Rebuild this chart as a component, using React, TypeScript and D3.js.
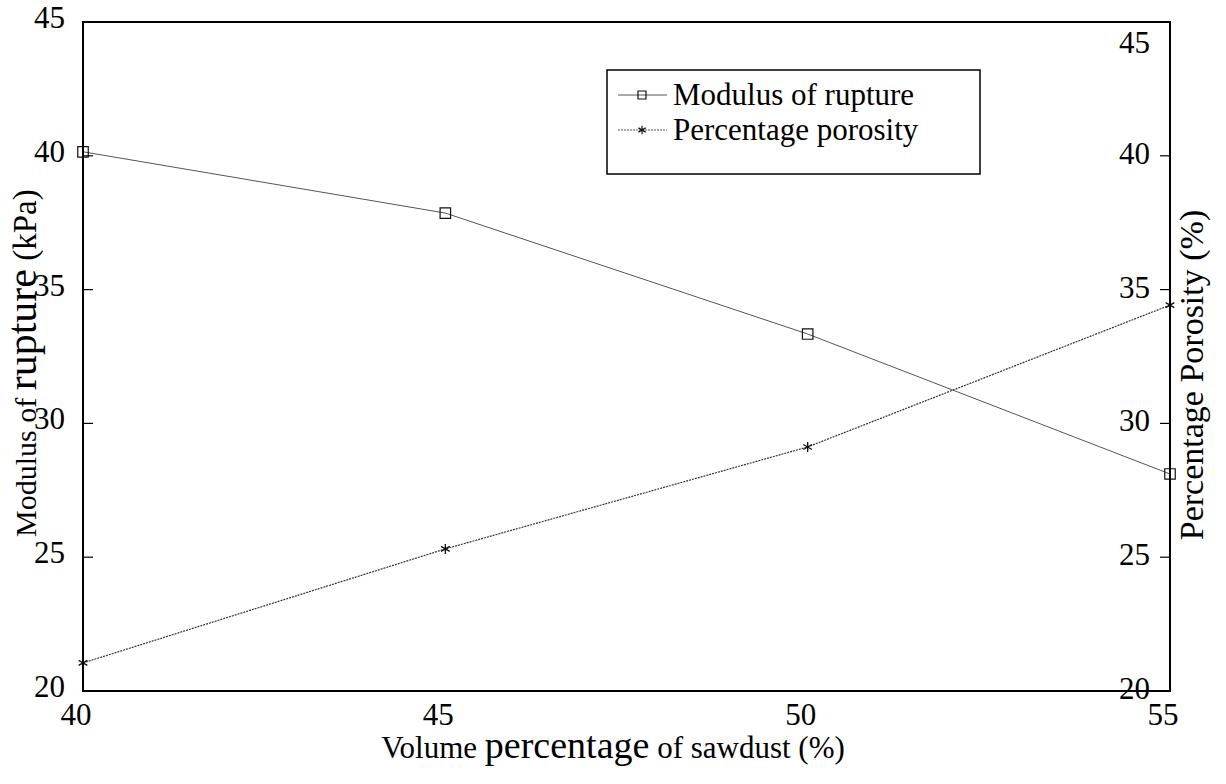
import React from "react";
import * as d3 from "d3";

// Volume percentage of sawdust (%)
const volume = [40, 45, 50, 55];
// Modulus of rupture (kPa), left axis
const modulusOfRupture = [40.15, 37.86, 33.34, 28.11];
// Percentage porosity (%), right axis
const porosity = [21.05, 25.31, 29.12, 34.42];

const xTicks = [40, 45, 50, 55];
const yTicks = [20, 25, 30, 35, 40, 45];

const W = 1226;
const H = 784;
const FONT = '"Liberation Serif"';
const tf = { fontFamily: FONT };

export default function App() {
  const left = 83, right = 1170, top = 22, bottom = 691;
  const x = d3.scaleLinear().domain([40, 55]).range([left, right]);
  const yL = d3.scaleLinear().domain([20, 45]).range([bottom, top]);
  const yR = d3.scaleLinear().domain([20, 45]).range([bottom, top]);

  const morLine = d3.line<number>().x((_, i) => x(volume[i])).y((d) => yL(d))(modulusOfRupture) || "";
  const porLine = d3.line<number>().x((_, i) => x(volume[i])).y((d) => yR(d))(porosity) || "";

  const square = d3.symbol(d3.symbolSquare, 110)() || "";
  const star = d3.symbol(d3.symbolAsterisk, 70)() || "";

  const lg = { x0: 607, y0: 70, x1: 980, y1: 174 };
  const legendRows = [
    { label: "Modulus of rupture", y: 95, kind: "square" },
    { label: "Percentage porosity", y: 130, kind: "star" },
  ];

  return (
    <svg
      width={W}
      height={H}
      style={{ position: "absolute", left: 0, top: 0, display: "block", background: "#fff" }}
    >
      <rect x={0} y={0} width={W} height={H} fill="#fff" />

      {/* series */}
      <path d={morLine} fill="none" stroke="#555" strokeWidth={1} />
      <path d={porLine} fill="none" stroke="#333" strokeWidth={1.2} strokeDasharray="2,1" />
      {modulusOfRupture.map((v, i) => (
        <path key={"m" + i} d={square} transform={`translate(${x(volume[i])},${yL(v)})`} fill="none" stroke="#111" strokeWidth={1.2} />
      ))}
      {porosity.map((v, i) => (
        <path key={"p" + i} d={star} transform={`translate(${x(volume[i])},${yR(v)})`} fill="none" stroke="#111" strokeWidth={1.3} />
      ))}

      {/* frame */}
      <rect x={left} y={top} width={right - left} height={bottom - top} fill="none" stroke="#000" strokeWidth={2} />

      {/* left axis */}
      {yTicks.map((t) => (
        <g key={"yl" + t}>
          <line x1={left} x2={left + 10} y1={yL(t)} y2={yL(t)} stroke="#000" strokeWidth={1.2} />
          <text x={65} y={yL(t) + 6} textAnchor="end" fontSize={31} style={tf}>{t}</text>
        </g>
      ))}

      {/* right axis */}
      {yTicks.map((t) => (
        <g key={"yr" + t}>
          <line x1={right - 10} x2={right} y1={yR(t)} y2={yR(t)} stroke="#000" strokeWidth={1.2} />
          <text x={1150} y={t === 45 ? yR(t) + 31 : yR(t) + 8} textAnchor="end" fontSize={31} style={tf}>{t}</text>
        </g>
      ))}

      {/* bottom axis labels */}
      {xTicks.map((t) => (
        <text key={"x" + t} x={x(t) - 7} y={725} textAnchor="middle" fontSize={31} style={tf}>{t}</text>
      ))}

      {/* axis titles */}
      <text x={613} y={758} textAnchor="middle" fontSize={31} style={tf}>
        Volume <tspan fontSize={38}>percentage</tspan> of sawdust (%)
      </text>
      <text transform={`translate(36,537) rotate(-90)`} textAnchor="start" fontSize={30} style={tf}>
        Modulus of <tspan fontSize={42}>rupture</tspan><tspan fontSize={33}> (kPa)</tspan>
      </text>
      <text transform={`translate(1203,375) rotate(-90)`} textAnchor="middle" fontSize={34} style={tf}>
        Percentage Porosity (%)
      </text>

      {/* legend */}
      <rect x={lg.x0} y={lg.y0} width={lg.x1 - lg.x0} height={lg.y1 - lg.y0} fill="#fff" stroke="#000" strokeWidth={1.5} />
      {legendRows.map((r) => (
        <g key={r.label}>
          <line x1={618} x2={667} y1={r.y} y2={r.y} stroke="#555" strokeWidth={1} strokeDasharray={r.kind === "star" ? "2,1" : undefined} />
          <path
            d={r.kind === "square" ? d3.symbol(d3.symbolSquare, 64)() || "" : d3.symbol(d3.symbolAsterisk, 50)() || ""}
            transform={`translate(642,${r.y})`}
            fill="none"
            stroke="#111"
            strokeWidth={1.2}
          />
          <text x={673} y={r.y + 10} fontSize={31} style={tf}>{r.label}</text>
        </g>
      ))}
    </svg>
  );
}
